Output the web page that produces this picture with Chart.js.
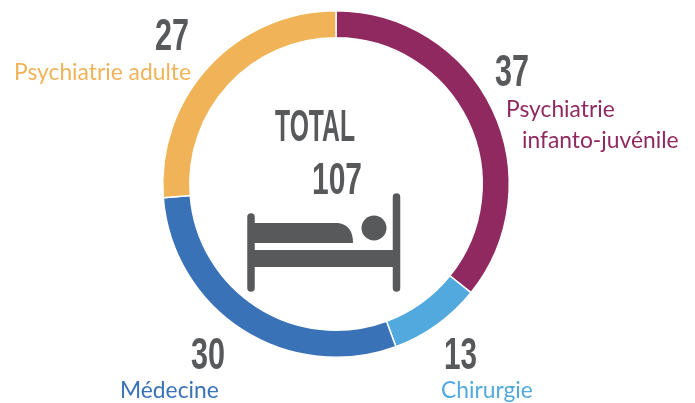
<!DOCTYPE html>
<html>
<head>
<meta charset="utf-8">
<style>
html, body { margin: 0; padding: 0; background: #fff; }
#wrap { position: relative; width: 695px; height: 403px; }
</style>
<script src="https://cdn.jsdelivr.net/npm/chart.js@4"></script>
</head>
<body>
<div id="wrap"><canvas id="myChart" width="695" height="403"></canvas></div>
<script>
var categories = ["Psychiatrie infanto-juvénile", "Chirurgie", "Médecine", "Psychiatrie adulte"];
// numbers printed on the picture
var printedValues = [37, 13, 30, 27];
// the ring in the picture is not proportional to the printed numbers, these are read off the arcs
var arcValues = [38.3, 9.2, 31.4, 28.1];
var colors = ["#90295F", "#52A9DE", "#3A72B8", "#F0B357"];
var total = "107";

var labelFont = "Lato, 'Open Sans', sans-serif";
var numFont = "'Liberation Sans', sans-serif";
var grey = "#58595B";

// tall condensed text: maxWidth squeezes it to the width in the picture
function bigText(c, str, x, y, w) {
    c.fillText(str, x, y, w);
}

// text and bed icon go on top of the ring
var overlay = {
    id: "overlay",
    afterDraw: function(chart) {
        var c = chart.ctx;
        c.save();
        c.textBaseline = "alphabetic";
        c.textAlign = "left";

        c.fillStyle = grey;
        c.font = "bold 45px " + numFont;
        bigText(c, String(printedValues[0]), 495, 86, 34);
        bigText(c, String(printedValues[1]), 444, 369, 33);
        bigText(c, String(printedValues[2]), 191, 369, 34);
        bigText(c, String(printedValues[3]), 155, 50, 34);
        bigText(c, "TOTAL", 275, 141, 80);
        bigText(c, total, 312, 194, 50);

        c.font = "22.8px " + labelFont;
        c.fillStyle = colors[0];
        c.fillText("Psychiatrie", 506, 117);
        c.fillText("infanto-juvénile", 522, 148);
        c.fillStyle = colors[1];
        c.fillText("Chirurgie", 441, 398);
        c.fillStyle = colors[2];
        c.fillText("Médecine", 120, 398);
        c.fillStyle = colors[3];
        c.fillText("Psychiatrie adulte", 14, 80);

        // bed
        c.fillStyle = grey;
        c.strokeStyle = grey;
        c.lineCap = "round";
        c.lineWidth = 7.5;
        c.beginPath();
        c.moveTo(251, 217); c.lineTo(251, 288);
        c.moveTo(396.5, 197); c.lineTo(396.5, 288);
        c.stroke();
        c.fillRect(251, 250, 145, 17);
        c.beginPath();
        c.moveTo(251, 223);
        c.lineTo(338, 223);
        c.quadraticCurveTo(353, 225, 353, 243);
        c.lineTo(251, 243);
        c.closePath();
        c.fill();
        c.beginPath();
        c.arc(374, 228, 12.5, 0, Math.PI * 2);
        c.fill();
        c.restore();
    }
};

var ctx = document.getElementById("myChart").getContext("2d");
var chart = new Chart(ctx, {
    type: "doughnut",
    data: {
        labels: categories,
        datasets: [{
            data: arcValues,
            backgroundColor: colors,
            borderColor: "#ffffff",
            borderWidth: 1.5
        }]
    },
    options: {
        responsive: false,
        animation: false,
        cutout: "84.4%",
        layout: { padding: { left: 162, right: 185, top: 10, bottom: 45 } },
        plugins: { legend: { display: false }, tooltip: { enabled: false } }
    },
    plugins: [overlay]
});
</script>
</body>
</html>
